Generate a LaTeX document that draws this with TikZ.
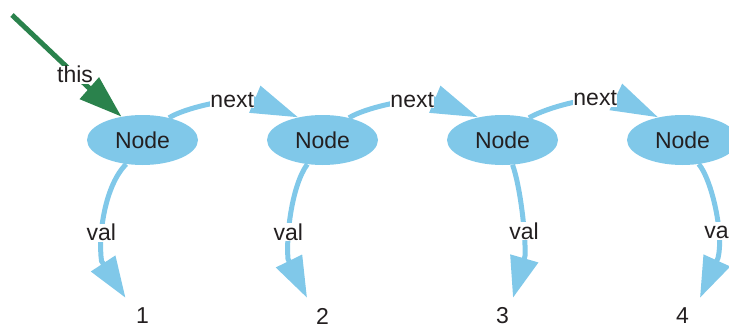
\documentclass[tikz,border=0pt]{standalone}
\usepackage{fontspec}
\setmainfont{Liberation Sans}
\usetikzlibrary{arrows.meta,shapes.geometric}
\definecolor{nodeblue}{RGB}{128,200,233}
\definecolor{thisgreen}{RGB}{42,130,76}
\definecolor{ink}{RGB}{35,31,32}
\begin{document}
\begin{tikzpicture}[x=1pt,y=-1pt,
  font=\fontsize{23}{27}\selectfont, text=ink,
  listnode/.style={ellipse, fill=nodeblue, minimum width=111pt, minimum height=50pt, inner sep=0pt},
  valnode/.style={minimum width=54pt, minimum height=20pt, inner sep=0pt},
  lbl/.style={fill=white, inner sep=0.5pt},
  link/.style={draw=nodeblue, line width=5pt, -{Triangle[length=47pt,width=28pt]}},
  valedge/.style={draw=nodeblue, line width=5pt, -{Triangle[length=41pt,width=28pt]}},
  thisedge/.style={draw=thisgreen, line width=5pt, -{Triangle[length=43pt,width=28pt]}},
]
\useasboundingbox (0,0) rectangle (729,327);
\clip (0,0) rectangle (729,327);

% list nodes
\node[listnode] (n1) at (142.5,140) {Node};
\node[listnode] (n2) at (322.5,140) {Node};
\node[listnode] (n3) at (502.5,140) {Node};
\node[listnode] (n4) at (682.5,140) {Node};

% values
\node[valnode] (v1) at (142.5,316) {1};
\node[valnode] (v2) at (322.5,316) {2};
\node[valnode] (v3) at (502.5,316) {3};
\node[valnode] (v4) at (682.5,316) {4};

% entry pointer
\coordinate (thisroot) at (12,15);
\draw[thisedge] (thisroot) -- node[lbl,pos=0.83] {this} (88,87) -- (n1.132);

% next links
\draw[link] (n1.40) .. controls (185,108) and (225,99) .. node[lbl,pos=0.77] {next} (253,98.5) -- (n2.137);
\draw[link] (n2.40) .. controls (365,108) and (405,99) .. node[lbl,pos=0.77] {next} (433,98.5) -- (n3.137);
\draw[link] (n3.40) .. controls (548,107) and (588,97) .. node[lbl,pos=0.77] {next} (616,97) -- (n4.137);

% val links
\draw[valedge] (n1.236) .. controls (105,185) and (98,235) .. node[lbl,pos=0.7] {val} (101.5,261) -- ([xshift=-17pt,yshift=8pt]v1.north);
\draw[valedge] (n2.238) .. controls (292,185) and (286,235) .. node[lbl,pos=0.7] {val} (288,259) -- ([xshift=-15.5pt,yshift=8pt]v2.north);
\draw[valedge] (n3.292) .. controls (520,185) and (526,235) .. node[lbl,pos=0.7] {val} (525,256) -- ([xshift=10.5pt,yshift=8pt]v3.north);
\draw[valedge] (n4.304) .. controls (712,180) and (724,235) .. node[lbl,pos=0.7] {val} (718,258) -- ([xshift=17.5pt,yshift=8pt]v4.north);
\end{tikzpicture}
\end{document}
